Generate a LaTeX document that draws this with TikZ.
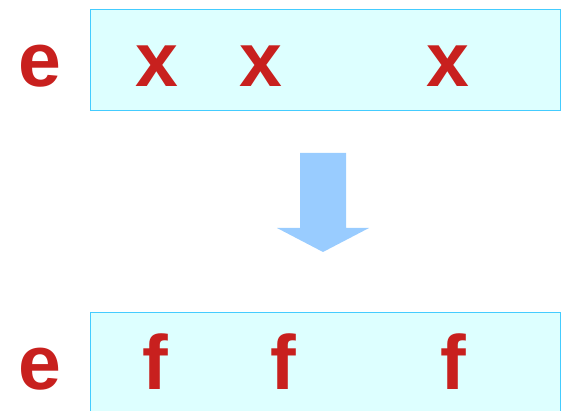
\documentclass[tikz,border=0pt]{standalone}
\usepackage{fontspec}
\setmainfont{Liberation Sans}
\definecolor{letterred}{RGB}{200,32,30}
\definecolor{boxfill}{RGB}{221,255,255}
\definecolor{boxline}{RGB}{68,204,255}
\definecolor{arrowblue}{RGB}{153,204,255}
\tikzset{
  letter/.style={inner sep=0pt, anchor=base, text=letterred,
    font=\fontsize{77}{77}\selectfont\bfseries},
  rowbox/.style={fill=boxfill, draw=boxline, line width=1pt}
}
\begin{document}
\begin{tikzpicture}[x=1pt,y=-1pt]
  \useasboundingbox (0,0) rectangle (564,411);
  \clip (0,0) rectangle (564,411);
  % upper row
  \draw[rowbox] (90.5,9.5) rectangle (560.5,110.5);
  \node[letter] (e1) at (40,87) {e};
  \node[letter] (x1) at (157,87) {x};
  \node[letter] (x2) at (261,87) {x};
  \node[letter] (x3) at (448,87) {x};
  % transformation arrow
  \fill[arrowblue] (300,153) -- (346,153) -- (346,228) -- (369,228)
    -- (323,252) -- (277,228) -- (300,228) -- cycle;
  % lower row
  \draw[rowbox] (90.5,312.5) rectangle (560.5,430);
  \node[letter] (e2) at (40,389) {e};
  \node[letter] (f1) at (155,389) {f};
  \node[letter] (f2) at (283,389) {f};
  \node[letter] (f3) at (453,389) {f};
\end{tikzpicture}
\end{document}
